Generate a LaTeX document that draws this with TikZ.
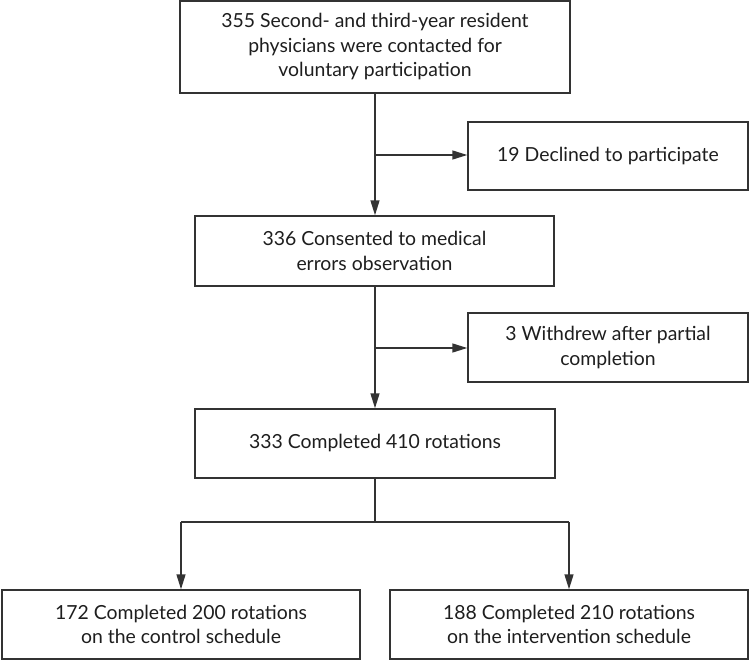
\documentclass[tikz,border=0pt]{standalone}
\usepackage{fontspec}
\setmainfont{Lato}
\usetikzlibrary{arrows.meta,positioning}
\definecolor{ink}{HTML}{1E1E1E}
\definecolor{frame}{HTML}{333333}
\begin{document}
\begin{tikzpicture}[x=1pt,y=-1pt,
  box/.style={draw=frame,line width=1.5pt,fill=white,inner sep=0pt,align=center,
    text=ink,font=\fontsize{19.4}{24.5}\selectfont},
  conn/.style={draw=frame,line width=1.5pt},
  arr/.style={conn,-{Triangle[length=15pt,width=9pt]}}]
\useasboundingbox (0,0) rectangle (750,661);
% boxes by pixel extents
\node[box,minimum width=390pt,minimum height=92pt] (b1) at (375,47) {355 Second- and third-year resident\\physicians were contacted for\\voluntary participation};
\node[box,minimum width=280pt,minimum height=68pt] (d1) at (608,156) {19 Declined to participate};
\node[box,minimum width=359pt,minimum height=70pt] (b2) at (374.5,251) {336 Consented to medical\\errors observation};
\node[box,minimum width=280pt,minimum height=69pt] (d2) at (608,347.5) {3 Withdrew after partial\\completion};
\node[box,minimum width=360pt,minimum height=69pt] (b3) at (375,443.5) {333 Completed 410 rotations};
\node[box,minimum width=358pt,minimum height=69pt] (l) at (181,624.5) {172 Completed 200 rotations\\on the control schedule};
\node[box,minimum width=358pt,minimum height=69pt] (r) at (569,624.5) {188 Completed 210 rotations\\on the intervention schedule};
% connectors
\coordinate (j1) at (375,155);
\coordinate (j2) at (375,348);
\coordinate (j3) at (375,522);
\coordinate (jl) at (181,522);
\coordinate (jr) at (569,522);
\draw[arr] (b1.south -| j1) -- (b2.north -| j1);
\draw[arr] (j1) -- (j1 -| d1.west);
\draw[arr] (b2.south -| j2) -- (b3.north -| j2);
\draw[arr] (j2) -- (j2 -| d2.west);
\draw[conn] (b3.south -| j3) -- (j3);
\draw[conn] (jl) -- (jr);
\draw[arr] (jl) -- (l.north);
\draw[arr] (jr) -- (r.north);
\end{tikzpicture}
\end{document}
